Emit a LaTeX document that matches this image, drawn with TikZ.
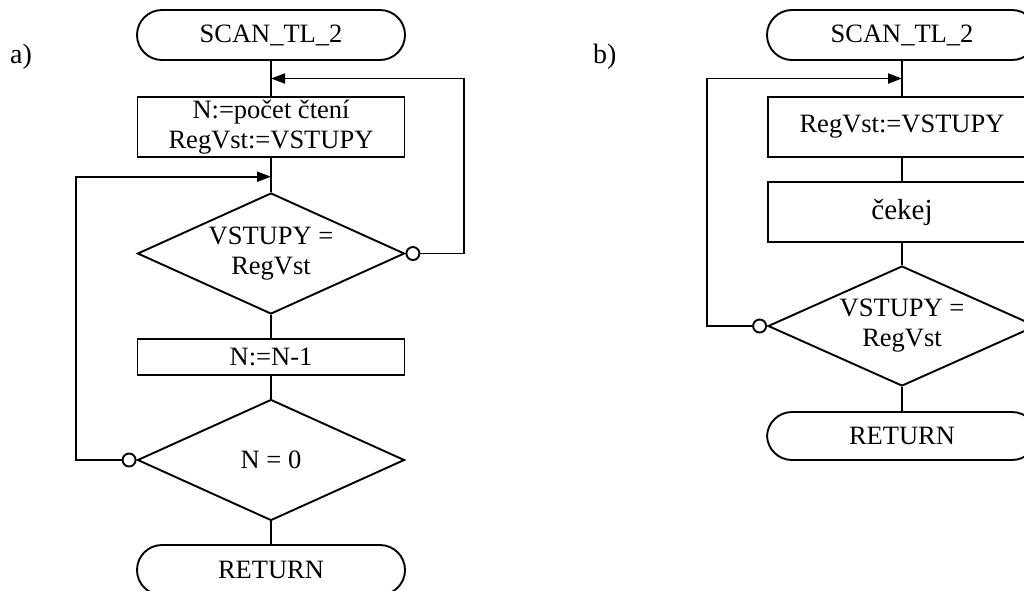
\documentclass[tikz,border=0pt]{standalone}
\usepackage{fontspec}
\setmainfont{Liberation Serif}
\usetikzlibrary{shapes.geometric,arrows.meta,positioning,calc}
\begin{document}
\begin{tikzpicture}[x=1pt,y=-1pt,
  every node/.style={font={\fontsize{26.5}{30}\selectfont}},
  base/.style={draw,line width=1.9pt,inner sep=0pt,align=center},
  term/.style={base,rectangle,rounded corners=25pt,minimum width=268pt,minimum height=50pt},
  proc/.style={base,rectangle,minimum width=267pt},
  cond/.style={base,diamond,shape aspect=2.2,minimum width=267pt,minimum height=121pt},
  dot/.style={draw,circle,line width=1.9pt,fill=white,minimum size=13pt,inner sep=0pt},
  lnk/.style={line width=1.9pt},
  arr/.style={line width=1.9pt,-{Triangle[length=14pt,width=10pt]}},
  lbl/.style={anchor=base west,inner sep=0pt,font={\fontsize{28}{30}\selectfont}}]
\useasboundingbox (0,0) rectangle (1024,590);
\clip (0,0) rectangle (1024,590);
% ---------- a) ----------
\node[lbl] (la) at (10,63) {a)};
\node[term] (s1) at (271,35) {SCAN\_TL\_2};
\node[proc,minimum height=60pt] (p1) at (271,127) {N:=počet čtení\\RegVst:=VSTUPY};
\node[cond] (d1) at (271,253.5) {VSTUPY =\\RegVst};
\node[proc,minimum height=36pt] (p2) at (271,357) {N:=N-1};
\node[cond] (d2) at (271,460) {N = 0};
\node[term] (r1) at (271,570) {RETURN};
\node[dot,right=0pt of d1.east] (c1) {};
\node[dot,left=0pt of d2.west] (c2) {};
\coordinate (j1) at ($(s1.south)!0.5!(p1.north)$);
\coordinate (j2) at ($(p1.south)!0.55!(d1.north)$);
\coordinate (ra) at (464,253.5);
\coordinate (lb) at (76,460);
\draw[lnk] (s1) -- (p1);
\draw[lnk] (p1) -- (d1);
\draw[lnk] (d1) -- (p2);
\draw[lnk] (p2) -- (d2);
\draw[lnk] (d2) -- (r1);
\draw[arr] (c1) -- (ra) |- (j1);
\draw[arr] (c2) -- (lb) |- (j2);
% ---------- b) ----------
\node[lbl] (lbb) at (593,63) {b)};
\node[term,minimum width=270pt] (t1) at (902,35) {SCAN\_TL\_2};
\node[proc,minimum width=268pt,minimum height=60pt] (q1) at (902,127) {RegVst:=VSTUPY};
\node[proc,minimum width=268pt,minimum height=60pt,font={\fontsize{29}{32}\selectfont}] (q2) at (902,212) {čekej};
\node[cond,minimum width=268pt,minimum height=120pt] (e1) at (902,326) {VSTUPY =\\RegVst};
\node[term,minimum width=270pt,minimum height=48pt] (t2) at (902,436) {RETURN};
\node[dot,left=0pt of e1.west] (c3) {};
\coordinate (j3) at ($(t1.south)!0.5!(q1.north)$);
\coordinate (lc) at (707,326);
\draw[lnk] (t1) -- (q1);
\draw[lnk] (q1) -- (q2);
\draw[lnk] (q2) -- (e1);
\draw[lnk] (e1) -- (t2);
\draw[arr] (c3) -- (lc) |- (j3);
\end{tikzpicture}
\end{document}
